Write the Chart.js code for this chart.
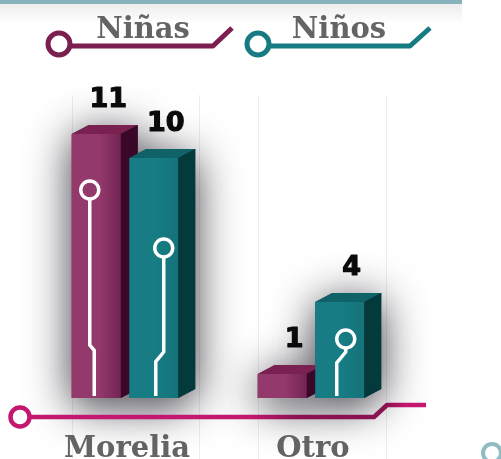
<!DOCTYPE html>
<html>
<head>
<meta charset="utf-8">
<script src="https://cdn.jsdelivr.net/npm/chart.js@4.4.0/dist/chart.umd.min.js"></script>
<style>
  html, body { margin: 0; padding: 0; background: #fff; overflow: hidden; }
</style>
</head>
<body>
<canvas id="grafica" width="501" height="459"></canvas>
<script>
// Datos de la gráfica
const categorias = ['Morelia', 'Otro'];
const series = ['Niñas', 'Niños'];
const valoresNinas = [11, 1];
const valoresNinos = [10, 4];

// Colores de cada serie: frente, tapa, lado, leyenda
const colores = [
  { frente: '#94396c', oscuro: '#732454', tapa: '#7b2152', lado: '#3b0729', linea: '#7a1f4f' },
  { frente: '#177c84', oscuro: '#157279', tapa: '#0f6368', lado: '#033a3c', linea: '#167b82' }
];

const PROF_X = 17; // profundidad del efecto 3D
const PROF_Y = 9;

// Circuitos blancos dentro de las barras (desplazamientos respecto a la barra)
const circuitos = {
  '0-0': { cx: -6.5, cy: 56, hasta: 53, dx: 4.5, r: 9 },
  '1-0': { cx: 10, cy: 90, hasta: 46, dx: -8, r: 9 },
  '1-1': { cx: 6, cy: 37, hasta: 46, dx: -9, r: 9 }
};

function barras(chart) {
  const lista = [];
  chart.data.datasets.forEach((ds, di) => {
    const meta = chart.getDatasetMeta(di);
    meta.data.forEach((el, i) => {
      const p = el.getProps(['x', 'y', 'base', 'width'], true);
      lista.push({ di, i, x0: p.x - p.width / 2, x1: p.x + p.width / 2, y: p.y, base: p.base, cx: p.x });
    });
  });
  return lista;
}

// contorno completo de la caja (frente + tapa + lado)
function contorno(ctx, b) {
  ctx.beginPath();
  ctx.moveTo(b.x0, b.base);
  ctx.lineTo(b.x0, b.y);
  ctx.lineTo(b.x0 + PROF_X, b.y - PROF_Y);
  ctx.lineTo(b.x1 + PROF_X, b.y - PROF_Y);
  ctx.lineTo(b.x1 + PROF_X, b.base - PROF_Y);
  ctx.lineTo(b.x1, b.base);
  ctx.closePath();
}

const fondo = {
  id: 'fondo',
  beforeDraw(chart) {
    const ctx = chart.ctx;
    ctx.save();
    ctx.fillStyle = '#fff';
    ctx.fillRect(0, 0, chart.width, chart.height);
    // banda gris bajo la barra superior
    const g = ctx.createLinearGradient(0, 4, 0, 24);
    g.addColorStop(0, 'rgba(0,0,0,0.07)');
    g.addColorStop(1, 'rgba(0,0,0,0)');
    ctx.fillStyle = g;
    ctx.fillRect(0, 4, 462, 20);
    ctx.fillStyle = '#87b4bc';
    ctx.fillRect(0, 0, 462, 4);
    // círculo cortado abajo a la derecha
    ctx.strokeStyle = '#8fbcc2';
    ctx.lineWidth = 4;
    ctx.beginPath();
    ctx.arc(492, 453, 9, 0, Math.PI * 2);
    ctx.stroke();
    ctx.restore();
  },
  beforeDatasetsDraw(chart) {
    const ctx = chart.ctx;
    ctx.save();
    barras(chart).forEach(b => {
      ctx.shadowColor = 'rgba(20,20,32,0.85)';
      ctx.shadowBlur = 44;
      ctx.shadowOffsetY = 8;
      ctx.fillStyle = '#333';
      contorno(ctx, b);
      ctx.fill();
    });
    ctx.restore();
    // aristas tenues de cajas transparentes
    ctx.save();
    ctx.strokeStyle = 'rgba(0,0,0,0.07)';
    ctx.lineWidth = 1;
    [72, 199, 258, 386].forEach(x => {
      ctx.beginPath();
      ctx.moveTo(x + 0.5, 95);
      ctx.lineTo(x + 0.5, 459);
      ctx.stroke();
    });
    ctx.restore();
  },
  afterDatasetsDraw(chart) {
    const ctx = chart.ctx;
    ctx.save();
    barras(chart).forEach(b => {
      const c = colores[b.di];
      // frente con degradado
      const g = ctx.createLinearGradient(b.x0, 0, b.x1, 0);
      g.addColorStop(0, c.frente);
      g.addColorStop(0.55, c.frente);
      g.addColorStop(1, c.oscuro);
      ctx.fillStyle = g;
      ctx.fillRect(b.x0, b.y, b.x1 - b.x0, b.base - b.y);
      // tapa
      ctx.fillStyle = c.tapa;
      ctx.beginPath();
      ctx.moveTo(b.x0, b.y);
      ctx.lineTo(b.x0 + PROF_X, b.y - PROF_Y);
      ctx.lineTo(b.x1 + PROF_X, b.y - PROF_Y);
      ctx.lineTo(b.x1, b.y);
      ctx.closePath();
      ctx.fill();
      // lado
      ctx.fillStyle = c.lado;
      ctx.beginPath();
      ctx.moveTo(b.x1, b.y);
      ctx.lineTo(b.x1 + PROF_X, b.y - PROF_Y);
      ctx.lineTo(b.x1 + PROF_X, b.base - PROF_Y);
      ctx.lineTo(b.x1, b.base);
      ctx.closePath();
      ctx.fill();
      // circuito blanco
      const k = circuitos[b.di + '-' + b.i];
      if (k) {
        const x = b.cx + k.cx, y = b.y + k.cy;
        ctx.strokeStyle = '#fff';
        ctx.lineWidth = 3.5;
        ctx.beginPath();
        ctx.arc(x, y, k.r, 0, Math.PI * 2);
        ctx.stroke();
        ctx.beginPath();
        ctx.moveTo(x, y + k.r);
        ctx.lineTo(x, b.base - k.hasta);
        ctx.lineTo(x + k.dx, b.base - k.hasta + Math.abs(k.dx) * 1.2);
        ctx.lineTo(x + k.dx, b.base - 2);
        ctx.stroke();
      }
      // valor
      const v = chart.data.datasets[b.di].data[b.i];
      ctx.fillStyle = '#0a0a0a';
      ctx.strokeStyle = '#0a0a0a';
      ctx.lineWidth = 1.2;
      ctx.lineJoin = 'round';
      ctx.font = 'bold 27px "DejaVu Sans"';
      ctx.textAlign = 'center';
      ctx.textBaseline = 'alphabetic';
      ctx.fillText(String(v), b.cx + 12, b.y - 27);
      ctx.strokeText(String(v), b.cx + 12, b.y - 27);
    });

    // eje inferior
    const ge = ctx.createLinearGradient(30, 0, 426, 0);
    ge.addColorStop(0, '#c4176f');
    ge.addColorStop(0.55, '#c4176f');
    ge.addColorStop(0.68, '#8a1250');
    ge.addColorStop(0.9, '#8a1250');
    ge.addColorStop(0.95, '#c4176f');
    ge.addColorStop(1, '#c4176f');
    ctx.strokeStyle = '#c4176f';
    ctx.lineWidth = 4.5;
    ctx.beginPath();
    ctx.arc(20, 417, 9.5, 0, Math.PI * 2);
    ctx.stroke();
    ctx.strokeStyle = ge;
    ctx.beginPath();
    ctx.moveTo(30, 417);
    ctx.lineTo(374, 417);
    ctx.lineTo(387, 405);
    ctx.lineTo(426, 405);
    ctx.stroke();

    // etiquetas de categoría
    const xs = chart.scales.x;
    ctx.fillStyle = '#636363';
    ctx.font = 'bold 29px "DejaVu Serif"';
    ctx.textAlign = 'center';
    categorias.forEach((cat, i) => {
      ctx.fillText(cat, xs.getPixelForValue(i) + 2, 457);
    });

    // leyenda
    const leyenda = [
      { cx: 59, x2: 213, x3: 232, tx: 143 },
      { cx: 258, x2: 410, x3: 430, tx: 339 }
    ];
    chart.data.datasets.forEach((ds, di) => {
      const l = leyenda[di];
      ctx.strokeStyle = colores[di].linea;
      ctx.lineWidth = 5;
      ctx.beginPath();
      ctx.arc(l.cx, 44, 11, 0, Math.PI * 2);
      ctx.stroke();
      ctx.beginPath();
      ctx.moveTo(l.cx + 11, 46);
      ctx.lineTo(l.x2, 46);
      ctx.lineTo(l.x3, 28);
      ctx.stroke();
      ctx.fillStyle = '#646464';
      ctx.font = 'bold 29px "DejaVu Serif"';
      ctx.textAlign = 'center';
      ctx.fillText(ds.label, l.tx, 38);
    });
    ctx.restore();
  }
};

new Chart(document.getElementById('grafica'), {
  type: 'bar',
  data: {
    labels: categorias,
    datasets: [
      { label: series[0], data: valoresNinas, backgroundColor: colores[0].frente },
      { label: series[1], data: valoresNinos, backgroundColor: colores[1].frente }
    ]
  },
  options: {
    responsive: false,
    animation: false,
    layout: { padding: { left: 32, right: 97, top: 110, bottom: 61 } },
    datasets: { bar: { categoryPercentage: 0.618, barPercentage: 0.852 } },
    scales: {
      x: { display: false },
      y: { display: false, min: 0, max: 12 }
    },
    plugins: {
      legend: { display: false },
      tooltip: { enabled: false }
    }
  },
  plugins: [fondo]
});
</script>
</body>
</html>
